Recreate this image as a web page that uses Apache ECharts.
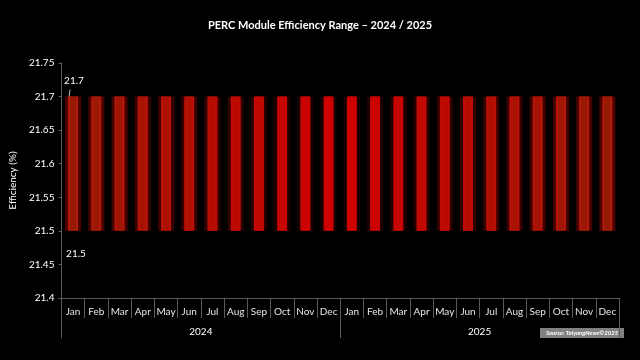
<!DOCTYPE html>
<html>
<head>
<meta charset="utf-8">
<script src="https://cdn.jsdelivr.net/npm/echarts@6/dist/echarts.min.js"></script>
<style>html,body{margin:0;padding:0;background:#000;}#c{width:640px;height:360px;}</style>
</head>
<body>
<div id="c"></div>
<script>
const months = ['Jan','Feb','Mar','Apr','May','Jun','Jul','Aug','Sep','Oct','Nov','Dec',
                'Jan','Feb','Mar','Apr','May','Jun','Jul','Aug','Sep','Oct','Nov','Dec'];
const years = ['2024','2025'];
const minEff = [21.5,21.5,21.5,21.5,21.5,21.5,21.5,21.5,21.5,21.5,21.5,21.5,
                21.5,21.5,21.5,21.5,21.5,21.5,21.5,21.5,21.5,21.5,21.5,21.5];
const maxEff = [21.7,21.7,21.7,21.7,21.7,21.7,21.7,21.7,21.7,21.7,21.7,21.7,
                21.7,21.7,21.7,21.7,21.7,21.7,21.7,21.7,21.7,21.7,21.7,21.7];
const yTicks = {min: 21.4, max: 21.75, interval: 0.05};

const FONT = 'Lato';
const chart = echarts.init(document.getElementById('c'));

function mix(a, b, t) {
  return 'rgb(' + a.map((v, k) => Math.round(v + (b[k] - v) * t)).join(',') + ')';
}

const data = months.map((m, i) => [i, minEff[i], maxEff[i]]);

chart.setOption({
  backgroundColor: '#000',
  animation: false,
  title: {
    text: 'PERC Module Efficiency Range – 2024 / 2025',
    left: 'center', top: 15,
    textStyle: {color: '#fff', fontSize: 11, fontWeight: 'bold', fontFamily: FONT}
  },
  grid: {left: 57, right: 21, top: 63, bottom: 62},
  xAxis: [{
    type: 'category', data: months, position: 'bottom',
    axisLine: {lineStyle: {color: '#5a5a5a'}},
    axisTick: {show: true, length: 20, interval: 0, lineStyle: {color: '#5a5a5a'}},
    axisLabel: {color: '#e6e6e6', fontSize: 10, margin: 9, interval: 0, fontFamily: FONT}
  }, {
    type: 'category', data: years, position: 'bottom', offset: 20,
    axisLine: {show: false},
    axisTick: {show: true, length: 20, interval: 0, lineStyle: {color: '#5a5a5a'}},
    axisLabel: {color: '#fff', fontSize: 10, margin: 9, fontFamily: FONT}
  }],
  yAxis: {
    type: 'value', min: yTicks.min, max: yTicks.max, interval: yTicks.interval,
    name: 'Efficiency (%)', nameLocation: 'middle', nameGap: 40,
    nameTextStyle: {color: '#fff', fontSize: 10, fontFamily: FONT},
    axisLine: {show: true, lineStyle: {color: '#5a5a5a'}},
    axisTick: {show: true, length: 3, lineStyle: {color: '#5a5a5a'}},
    splitLine: {show: false},
    axisLabel: {color: '#fff', fontSize: 10, margin: 7, fontFamily: FONT,
      formatter: v => String(+v.toFixed(2))}
  },
  series: [{
    type: 'custom',
    xAxisIndex: 0,
    data: data,
    encode: {x: 0, y: [1, 2]},
    renderItem: function (params, api) {
      const i = api.value(0);
      const top = api.coord([i, api.value(2)]);
      const bot = api.coord([i, api.value(1)]);
      const t = Math.min(1, Math.abs(i - 11.5) / 11.5);
      const core = mix([210, 0, 0], [150, 26, 4], t);
      const shade = mix([22, 0, 0], [78, 2, 0], t);
      const edge = mix([205, 0, 0], [178, 28, 12], t);
      const x = top[0];
      const h = bot[1] - top[1];
      const children = [
        {type: 'rect', shape: {x: x - 8, y: top[1], width: 16, height: h}, style: {fill: shade}},
        {type: 'rect', shape: {x: x - 5, y: top[1], width: 10, height: h}, style: {fill: edge}},
        {type: 'rect', shape: {x: x - 3, y: top[1], width: 6, height: h}, style: {fill: core}}
      ];
      if (params.dataIndex === 0) {
        children.push({type: 'text', style: {text: String(api.value(2)), x: x - 9, y: top[1] - 21,
          fill: '#fff', fontSize: 10, fontFamily: FONT}});
        children.push({type: 'line', shape: {x1: x - 3, y1: top[1] - 7, x2: x - 4, y2: top[1]},
          style: {stroke: '#bbb', lineWidth: 1}});
        children.push({type: 'text', style: {text: String(api.value(1)), x: x - 7, y: bot[1] + 18,
          fill: '#fff', fontSize: 10, fontFamily: FONT}});
      }
      return {type: 'group', children: children};
    }
  }],
  graphic: [{
    type: 'group', right: 16, bottom: 22,
    children: [
      {type: 'rect', shape: {x: 0, y: 0, width: 84, height: 10}, style: {fill: '#808080'}},
      {type: 'text', x: 42, y: 5, style: {text: 'Source: TaiyangNews©2025', fill: '#fff',
        fontSize: 6, fontWeight: 'bold', fontStyle: 'italic', fontFamily: FONT,
        align: 'center', verticalAlign: 'middle'}}
    ]
  }]
});
</script>
</body>
</html>
